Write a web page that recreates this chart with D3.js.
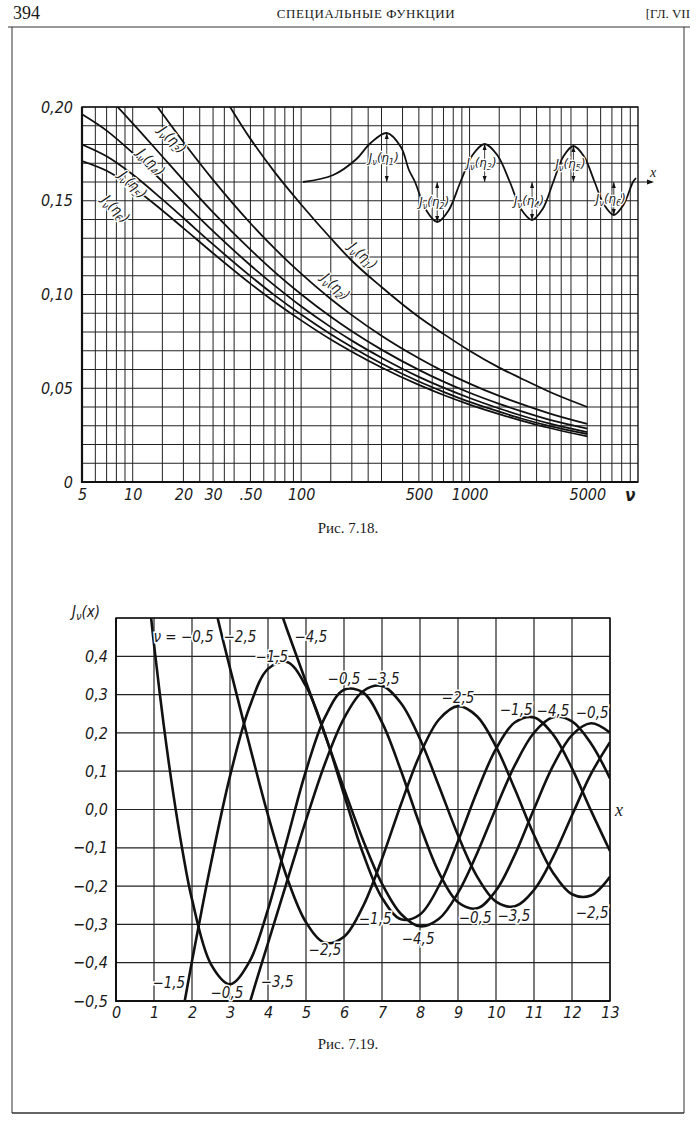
<!DOCTYPE html>
<html lang="ru">
<head>
<meta charset="UTF-8">
<title>Рис. 7.18, 7.19</title>
<script src="https://d3js.org/d3.v7.min.js"></script>
<style>
  body { margin: 0; background: #fff; }
  .lab { font-family: "DejaVu Sans Condensed", "DejaVu Sans", sans-serif; font-style: italic; fill: #1a1a1a; }
  .serif { font-family: "Liberation Serif", "DejaVu Serif", serif; fill: #1a1a1a; }
  .grid line { stroke: #222; }
</style>
</head>
<body>
<div id="page"></div>
<script>
  // ---- Fig 7.18: J_nu(eta_k), values at the k-th extremum, log nu axis
  const nu = [5, 7, 10, 15, 20, 30, 50, 70, 100, 150, 200, 300, 500, 700, 1000, 1500, 2000, 3000, 5000]
  const eta1 = [null, null, null, null, null, 0.215, 0.183, 0.165, 0.148, 0.130, 0.118, 0.104, 0.088, 0.079, 0.070, 0.061, 0.0555, 0.048, 0.040]
  const eta2 = [null, null, 0.2187, 0.1965, 0.1813, 0.1611, 0.1380, 0.1243, 0.1111, 0.0976, 0.0890, 0.0780, 0.0660, 0.0590, 0.0525, 0.0459, 0.0418, 0.0365, 0.0310]
  const eta3 = [0.2180, 0.2061, 0.1913, 0.1736, 0.1610, 0.1438, 0.1239, 0.1118, 0.1001, 0.0881, 0.0804, 0.0706, 0.0598, 0.0535, 0.0476, 0.0417, 0.0379, 0.0331, 0.0285]
  const eta4 = [0.1961, 0.1874, 0.1755, 0.1603, 0.1492, 0.1338, 0.1156, 0.1046, 0.0937, 0.0826, 0.0754, 0.0663, 0.0561, 0.0503, 0.0448, 0.0392, 0.0356, 0.0311, 0.0266]
  const eta5 = [0.1800, 0.1737, 0.1640, 0.1507, 0.1408, 0.1267, 0.1098, 0.0994, 0.0893, 0.0788, 0.0720, 0.0632, 0.0536, 0.0481, 0.0427, 0.0375, 0.0340, 0.0298, 0.0256]
  const eta6 = [0.1712, 0.1660, 0.1572, 0.1448, 0.1354, 0.1220, 0.1058, 0.0959, 0.0862, 0.0760, 0.0695, 0.0611, 0.0518, 0.0464, 0.0413, 0.0362, 0.0329, 0.0288, 0.0243]
  const etaSeries = [eta1, eta2, eta3, eta4, eta5, eta6]
  const etaNames = ["1", "2", "3", "4", "5", "6"]

  const nuTicks = [5, 10, 20, 30, 50, 100, 500, 1000, 5000]
  const nuTickLabels = ["5", "10", "20", "30", ".50", "100", "500", "1000", "5000"]
  const nuGrid = [6, 7, 8, 9, 10, 15, 20, 25, 30, 35, 40, 50, 60, 70, 80, 90, 100, 150, 200, 250, 300, 400, 500,
    600, 700, 800, 900, 1000, 1500, 2000, 2500, 3000, 3500, 4000, 5000, 6000, 7000, 8000, 9000]
  const valTicks = [0, 0.05, 0.10, 0.15, 0.20]
  const valTickLabels = ["0", "0,05", "0,10", "0,15", "0,20"]

  // label anchors (nu, value) for the curve names
  const etaLabelNu = [224, 154, 16.5, 12.3, 9.6, 7.6]
  const etaLabelVal = [0.121, 0.1045, 0.183, 0.171, 0.159, 0.146]

  // small sketch of J_nu(x) with its extrema (inset)
  const insX = [0, 3, 5.3, 6.6, 8.3, 9.7, 10.5, 11.1, 12.2, 13.3, 14.45, 15.6, 16.8, 18, 19.25, 20.5, 21.6, 22.7, 23.75, 24.8, 25.8, 26.8, 27.85, 28.9, 29.85, 30.8, 31.75, 32.7, 33]
  const insY = [0, 0.07, 0.23, 0.38, 0.49, 0.35, 0.12, 0, -0.28, -0.40, -0.28, 0, 0.27, 0.38, 0.27, 0, -0.27, -0.38, -0.27, 0, 0.255, 0.36, 0.255, 0, -0.23, -0.33, -0.23, 0, 0.04]
  const insExtX = [8.3, 13.3, 18, 22.7, 26.8, 30.8]
  const insExtY = [0.49, -0.40, 0.38, -0.38, 0.36, -0.33]

  // ---- Fig 7.19: J_nu(x) for nu = -0.5 ... -4.5
  const xM05 = [0.9, 1, 1.25, 1.5, 1.75, 2, 2.5, 3, 3.5, 4, 4.5, 5, 5.5, 6, 6.5, 7, 7.5, 8, 8.5, 9, 9.5, 10, 10.5, 11, 11.5, 12, 12.5, 13]
  const jM05 = [0.5228, 0.4311, 0.2250, 0.0461, -0.1075, -0.2348, -0.4043, -0.4561, -0.3994, -0.2608, -0.0793, 0.1012, 0.2411, 0.3128, 0.3056, 0.2274, 0.1010, -0.0410, -0.1648, -0.2423, -0.2581, -0.2117, -0.1171, 0.0011, 0.1137, 0.1944, 0.2252, 0.2008]
  const xM15 = [1.5, 1.75, 2, 2.25, 2.5, 3, 3.5, 4, 4.5, 5, 5.5, 6, 6.5, 7, 7.5, 8, 8.5, 9, 9.5, 10, 10.5, 11, 11.5, 12, 12.5, 13]
  const jM15 = [-0.6806, -0.5320, -0.3956, -0.2654, -0.1403, 0.0870, 0.2637, 0.3671, 0.3853, 0.3219, 0.1962, 0.0389, -0.1143, -0.2306, -0.2868, -0.2740, -0.1991, -0.0827, 0.0466, 0.1584, 0.2278, 0.2405, 0.1961, 0.1074, -0.0030, -0.1084]
  const xM25 = [2.5, 2.75, 3, 3.5, 4, 4.5, 5, 5.5, 6, 6.5, 7, 7.5, 8, 8.5, 9, 9.5, 10, 10.5, 11, 11.5, 12, 12.5, 13]
  const jM25 = [0.5726, 0.4686, 0.3690, 0.1733, -0.0146, -0.1776, -0.2944, -0.3481, -0.3322, -0.2529, -0.1285, 0.0137, 0.1438, 0.2350, 0.2699, 0.2434, 0.1642, 0.0520, -0.0666, -0.1649, -0.2212, -0.2245, -0.1758]
  const xM35 = [3.5, 3.75, 4, 4.5, 5, 5.5, 6, 6.5, 7, 7.5, 8, 8.5, 9, 9.5, 10, 10.5, 11, 11.5, 12, 12.5, 13]
  const jM35 = [-0.5114, -0.4291, -0.3489, -0.1880, -0.0276, 0.1203, 0.2380, 0.3088, 0.3224, 0.2776, 0.1841, 0.0609, -0.0673, -0.1747, -0.2405, -0.2525, -0.2102, -0.1244, -0.0152, 0.0928, 0.1760]
  const xM45 = [4, 4.25, 4.5, 5, 5.5, 6, 6.5, 7, 7.5, 8, 8.5, 9, 9.5, 10, 10.5, 11, 11.5, 12, 12.5, 13]
  const jM45 = [0.6251, 0.5432, 0.4700, 0.3329, 0.1950, 0.0546, -0.0797, -0.1939, -0.2728, -0.3049, -0.2852, -0.2176, -0.1147, 0.0042, 0.1163, 0.2004, 0.2406, 0.2301, 0.1725, 0.0810]
  const besselX = [xM05, xM15, xM25, xM35, xM45]
  const besselY = [jM05, jM15, jM25, jM35, jM45]

  const xTicks2 = [0, 1, 2, 3, 4, 5, 6, 7, 8, 9, 10, 11, 12, 13]
  const yTicks2 = [-0.5, -0.4, -0.3, -0.2, -0.1, 0, 0.1, 0.2, 0.3, 0.4]
  const yTickLabels2 = ["−0,5", "−0,4", "−0,3", "−0,2", "−0,1", "0,0", "0,1", "0,2", "0,3", "0,4"]

  const orderText = ["ν = −0,5", "−2,5", "−4,5", "−1,5", "−0,5", "−3,5", "−2,5", "−1,5", "−4,5", "−0,5",
    "−1,5", "−0,5", "−3,5", "−2,5", "−1,5", "−4,5", "−0,5", "−3,5", "−2,5"]
  const orderX = [1.78, 3.26, 5.13, 4.1, 6.0, 7.03, 9.0, 10.53, 11.5, 12.53, 1.39, 2.92, 4.24, 5.5, 6.82, 7.95, 9.45, 10.47, 12.53]
  const orderY = [0.45, 0.45, 0.45, 0.397, 0.34, 0.342, 0.292, 0.26, 0.258, 0.253, -0.452, -0.478, -0.45, -0.366, -0.287, -0.337, -0.282, -0.277, -0.27]

  // ------------------------------------------------------------------
  const svg = d3.select("#page").append("svg").attr("width", 700).attr("height", 1128)

  // page head and frame
  svg.append("text").attr("class", "serif").attr("x", 13).attr("y", 19).attr("font-size", 18).text("394")
  svg.append("text").attr("class", "serif").attr("x", 366).attr("y", 18).attr("text-anchor", "middle")
    .attr("font-size", 13).attr("letter-spacing", 0.6).text("СПЕЦИАЛЬНЫЕ ФУНКЦИИ")
  svg.append("text").attr("class", "serif").attr("x", 690).attr("y", 18).attr("text-anchor", "end")
    .attr("font-size", 13).text("[ГЛ. VII")
  svg.append("path").attr("d", "M8,27H690M12,27V1113H684V27M12,1113H684")
    .attr("fill", "none").attr("stroke", "#333").attr("stroke-width", 1)

  function jLabel(g, sub, size) {
    const t = g.append("text").attr("class", "lab").attr("font-size", size).attr("text-anchor", "middle")
    t.append("tspan").text("J")
    t.append("tspan").attr("font-size", size * 0.72).attr("dy", size * 0.25).text("ν")
    t.append("tspan").attr("dy", -size * 0.25).text(sub[0])
    t.append("tspan").attr("font-size", size * 0.72).attr("dy", size * 0.25).text(sub[1])
    t.append("tspan").attr("dy", -size * 0.25).text(")")
    return t
  }

  // ---------------- Fig 7.18 ----------------
  const x1 = d3.scaleLog().domain([5, 10000]).range([82, 638])
  const y1 = d3.scaleLinear().domain([0, 0.2]).range([482, 107])
  const g1 = svg.append("g")

  g1.append("clipPath").attr("id", "clip1").append("rect")
    .attr("x", x1(5)).attr("y", y1(0.2)).attr("width", x1(10000) - x1(5)).attr("height", y1(0) - y1(0.2))

  const grid1 = g1.append("g").attr("class", "grid")
  grid1.selectAll(".v").data(nuGrid).join("line").attr("class", "v")
    .attr("x1", d => x1(d)).attr("x2", d => x1(d)).attr("y1", y1(0)).attr("y2", y1(0.2))
    .attr("stroke-width", 1)
  grid1.selectAll(".h").data(y1.ticks(20)).join("line").attr("class", "h")
    .attr("x1", x1(5)).attr("x2", x1(10000)).attr("y1", d => y1(d)).attr("y2", d => y1(d))
    .attr("stroke-width", 1)

  g1.append("rect").attr("x", x1(5)).attr("y", y1(0.2)).attr("width", x1(10000) - x1(5)).attr("height", y1(0) - y1(0.2))
    .attr("fill", "none").attr("stroke", "#111").attr("stroke-width", 1.4)
  g1.append("path").attr("d", `M${x1(5)},${y1(0.2)}V${y1(0)}H${x1(10000)}`)
    .attr("fill", "none").attr("stroke", "#111").attr("stroke-width", 2.2)

  const line1 = d3.line().defined(d => d[1] != null)
    .x(d => x1(d[0])).y(d => y1(d[1])).curve(d3.curveMonotoneX)
  g1.append("g").attr("clip-path", "url(#clip1)").selectAll("path").data(etaSeries).join("path")
    .attr("d", s => line1(nu.map((v, i) => [v, s[i]])))
    .attr("fill", "none").attr("stroke", "#111").attr("stroke-width", 1.8)

  // curve names along the curves
  etaNames.forEach((k, i) => {
    const ang = i < 2 ? 42 : 45
    jLabel(g1, ["(η", k], 14)
      .attr("transform", `translate(${x1(etaLabelNu[i])},${y1(etaLabelVal[i]) + 4}) rotate(${ang})`)
      .attr("stroke", "#fff").attr("stroke-width", 2.5).attr("paint-order", "stroke")
  })

  // axes
  const ax1 = g1.append("g").attr("transform", `translate(0,${y1(0)})`)
    .call(d3.axisBottom(x1).tickValues(nuTicks).tickFormat((d, i) => nuTickLabels[i]).tickSize(0).tickPadding(7))
  ax1.select(".domain").remove()
  ax1.selectAll("text").attr("class", "lab").attr("font-size", 16).attr("fill", "#1a1a1a")
  g1.append("text").attr("class", "lab").attr("x", x1(9000)).attr("y", y1(0) + 19)
    .attr("font-size", 17).attr("font-weight", "bold").attr("text-anchor", "middle").text("ν")

  const ay1 = g1.append("g").attr("transform", `translate(${x1(5)},0)`)
    .call(d3.axisLeft(y1).tickValues(valTicks).tickFormat((d, i) => valTickLabels[i]).tickSize(0).tickPadding(9))
  ay1.select(".domain").remove()
  ay1.selectAll("text").attr("class", "lab").attr("font-size", 16).attr("fill", "#1a1a1a")

  // inset sketch
  const ix = d3.scaleLinear().domain([0, 33]).range([303, 636])
  const iy = d3.scaleLinear().domain([-0.5, 0.5]).range([y1(0.16) + 50, y1(0.16) - 50])
  const gi = g1.append("g")
  gi.append("path").attr("d", `M${x1(10000)},${iy(0)}H${x1(10000) + 14}`).attr("stroke", "#111").attr("stroke-width", 1)
  gi.append("path").attr("d", `M${x1(10000) + 16},${iy(0)}l-7,-2.5v5z`).attr("fill", "#111")
  gi.append("text").attr("class", "serif").attr("font-style", "italic").attr("x", x1(10000) + 12).attr("y", iy(0) - 5)
    .attr("font-size", 14).text("x")
  gi.append("path").datum(insX.map((v, i) => [v, insY[i]]))
    .attr("d", d3.line().x(d => ix(d[0])).y(d => iy(d[1])).curve(d3.curveCatmullRom.alpha(0.5)))
    .attr("fill", "none").attr("stroke", "#111").attr("stroke-width", 1.8)
  insExtX.forEach((xv, i) => {
    const xe = ix(xv), ye = iy(insExtY[i]), y0 = iy(0), dir = Math.sign(ye - y0)
    gi.append("line").attr("x1", xe).attr("x2", xe).attr("y1", y0).attr("y2", ye).attr("stroke", "#111").attr("stroke-width", 0.8)
    gi.append("path").attr("d", `M${xe},${ye}l-2,${-dir * 6}h4z`).attr("fill", "#111")
    gi.append("path").attr("d", `M${xe},${y0}l-2,${dir * 6}h4z`).attr("fill", "#111")
    jLabel(gi, ["(η", etaNames[i]], 13)
      .attr("transform", `translate(${xe - 3},${(ye + y0) / 2 + 4})`)
      .attr("stroke", "#fff").attr("stroke-width", 2.5).attr("paint-order", "stroke")
  })

  svg.append("text").attr("class", "serif").attr("x", 348).attr("y", 533).attr("text-anchor", "middle")
    .attr("font-size", 15).text("Рис. 7.18.")

  // ---------------- Fig 7.19 ----------------
  const x2 = d3.scaleLinear().domain([0, 13]).range([116, 610])
  const y2 = d3.scaleLinear().domain([-0.5, 0.5]).range([1001, 618])
  const g2 = svg.append("g")

  g2.append("clipPath").attr("id", "clip2").append("rect")
    .attr("x", x2(0)).attr("y", y2(0.5)).attr("width", x2(13) - x2(0)).attr("height", y2(-0.5) - y2(0.5))

  const grid2 = g2.append("g").attr("class", "grid")
  grid2.selectAll(".v").data(xTicks2).join("line").attr("class", "v")
    .attr("x1", d => x2(d)).attr("x2", d => x2(d)).attr("y1", y2(-0.5)).attr("y2", y2(0.5)).attr("stroke-width", 1.2)
  grid2.selectAll(".h").data(y2.ticks(10)).join("line").attr("class", "h")
    .attr("x1", x2(0)).attr("x2", x2(13)).attr("y1", d => y2(d)).attr("y2", d => y2(d)).attr("stroke-width", 1.2)
  g2.append("rect").attr("x", x2(0)).attr("y", y2(0.5)).attr("width", x2(13) - x2(0)).attr("height", y2(-0.5) - y2(0.5))
    .attr("fill", "none").attr("stroke", "#111").attr("stroke-width", 1.4)
  g2.append("path").attr("d", `M${x2(0)},${y2(0.5)}V${y2(-0.5)}H${x2(13)}`)
    .attr("fill", "none").attr("stroke", "#111").attr("stroke-width", 2)

  const line2 = d3.line().x(d => x2(d[0])).y(d => y2(d[1])).curve(d3.curveCatmullRom.alpha(0.5))
  g2.append("g").attr("clip-path", "url(#clip2)").selectAll("path").data(besselX).join("path")
    .attr("d", (xs, k) => line2(xs.map((v, i) => [v, besselY[k][i]])))
    .attr("fill", "none").attr("stroke", "#111").attr("stroke-width", 2.6)

  g2.selectAll(".ord").data(orderText).join("text").attr("class", "lab ord")
    .attr("x", (d, i) => x2(orderX[i])).attr("y", (d, i) => y2(orderY[i]) + 5)
    .attr("text-anchor", "middle").attr("font-size", 15)
    .attr("stroke", "#fff").attr("stroke-width", 3).attr("paint-order", "stroke")
    .text(d => d)

  const ax2 = g2.append("g").attr("transform", `translate(0,${y2(-0.5)})`)
    .call(d3.axisBottom(x2).tickValues(xTicks2).tickSize(0).tickPadding(6))
  ax2.select(".domain").remove()
  ax2.selectAll("text").attr("class", "lab").attr("font-size", 16).attr("fill", "#1a1a1a")
  const ay2 = g2.append("g").attr("transform", `translate(${x2(0)},0)`)
    .call(d3.axisLeft(y2).tickValues(yTicks2).tickFormat((d, i) => yTickLabels2[i]).tickSize(0).tickPadding(8))
  ay2.select(".domain").remove()
  ay2.selectAll("text").attr("class", "lab").attr("font-size", 16).attr("fill", "#1a1a1a")

  const jx = g2.append("text").attr("class", "lab").attr("x", 72).attr("y", 617).attr("font-size", 15)
  jx.append("tspan").text("J")
  jx.append("tspan").attr("font-size", 11).attr("dy", 3).text("ν")
  jx.append("tspan").attr("dy", -3).text("(x)")
  g2.append("text").attr("class", "serif").attr("font-style", "italic").attr("x", x2(13) + 5).attr("y", y2(0) + 6)
    .attr("font-size", 18).text("x")

  svg.append("text").attr("class", "serif").attr("x", 348).attr("y", 1049).attr("text-anchor", "middle")
    .attr("font-size", 15).text("Рис. 7.19.")
</script>
</body>
</html>
